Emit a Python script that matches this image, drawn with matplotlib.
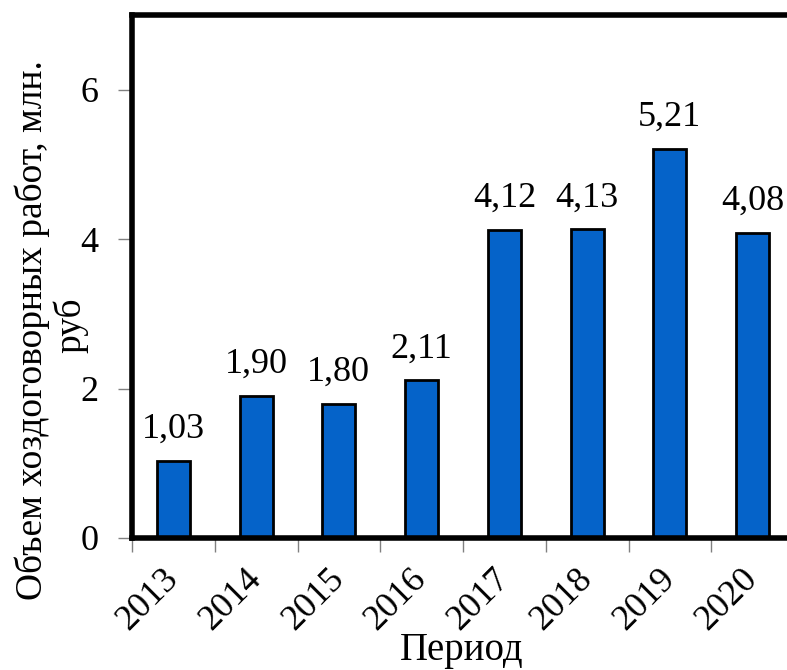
import numpy as np
import matplotlib.pyplot as plt

years = ['2013', '2014', '2015', '2016', '2017', '2018', '2019', '2020']
volume = [1.03, 1.90, 1.80, 2.11, 4.12, 4.13, 5.21, 4.08]
value_labels = ['1,03', '1,90', '1,80', '2,11', '4,12', '4,13', '5,21', '4,08']


def main():
    plt.rcParams['font.family'] = ['Liberation Serif', 'DejaVu Serif']
    fs = 26
    fig = plt.figure(figsize=(7.87, 6.70), dpi=100)
    # правая граница осей уходит за край рисунка, как на оригинале
    ax = fig.add_axes([132 / 787, 1 - 538 / 670, 662 / 787, 523 / 670])

    x = np.arange(len(years))
    ax.bar(x, volume, width=0.4, color='#0563C9', edgecolor='black', linewidth=2, zorder=2)
    for xi, v, lab in zip(x, volume, value_labels):
        ax.text(xi, v + 0.2, lab, ha='center', va='bottom', fontsize=fs)

    ax.set_xlim(-0.5, len(years) - 0.5)
    ax.set_ylim(0, 7)

    # риски между категориями, подписи по центру
    ax.set_xticks(np.arange(len(years) + 1) - 0.5)
    ax.set_xticklabels([])
    ax.set_xticks(x, minor=True)
    ax.set_xticklabels(years, minor=True, rotation=45, ha='right', va='center',
                       rotation_mode='anchor', fontsize=fs)
    ax.tick_params(axis='x', which='major', direction='out', length=10, width=1, color='#808080')
    ax.tick_params(axis='x', which='minor', length=0, pad=26)

    ax.set_yticks([0, 2, 4, 6])
    ax.set_yticklabels(['0', '2', '4', '6'], fontsize=fs)
    ax.tick_params(axis='y', direction='out', length=10, width=1, color='#808080', pad=14)

    for side in ['left', 'top', 'bottom']:
        ax.spines[side].set_linewidth(4)
    ax.spines['right'].set_visible(False)

    # подпись оси Y в две строки, каждая строка отдельно
    fig.text(42 / 787, 1 - 330 / 670, 'Объем хоздоговорных работ, млн.', fontsize=27,
             rotation=90, rotation_mode='anchor', ha='center', va='baseline')
    fig.text(80 / 787, 1 - 325 / 670, 'руб', fontsize=27,
             rotation=90, rotation_mode='anchor', ha='center', va='baseline')
    fig.text(462 / 787, 1 - 669 / 670, 'Период', fontsize=28, ha='center', va='bottom')

    fig.savefig('out.png', dpi=100)


if __name__ == "__main__":
    main()
